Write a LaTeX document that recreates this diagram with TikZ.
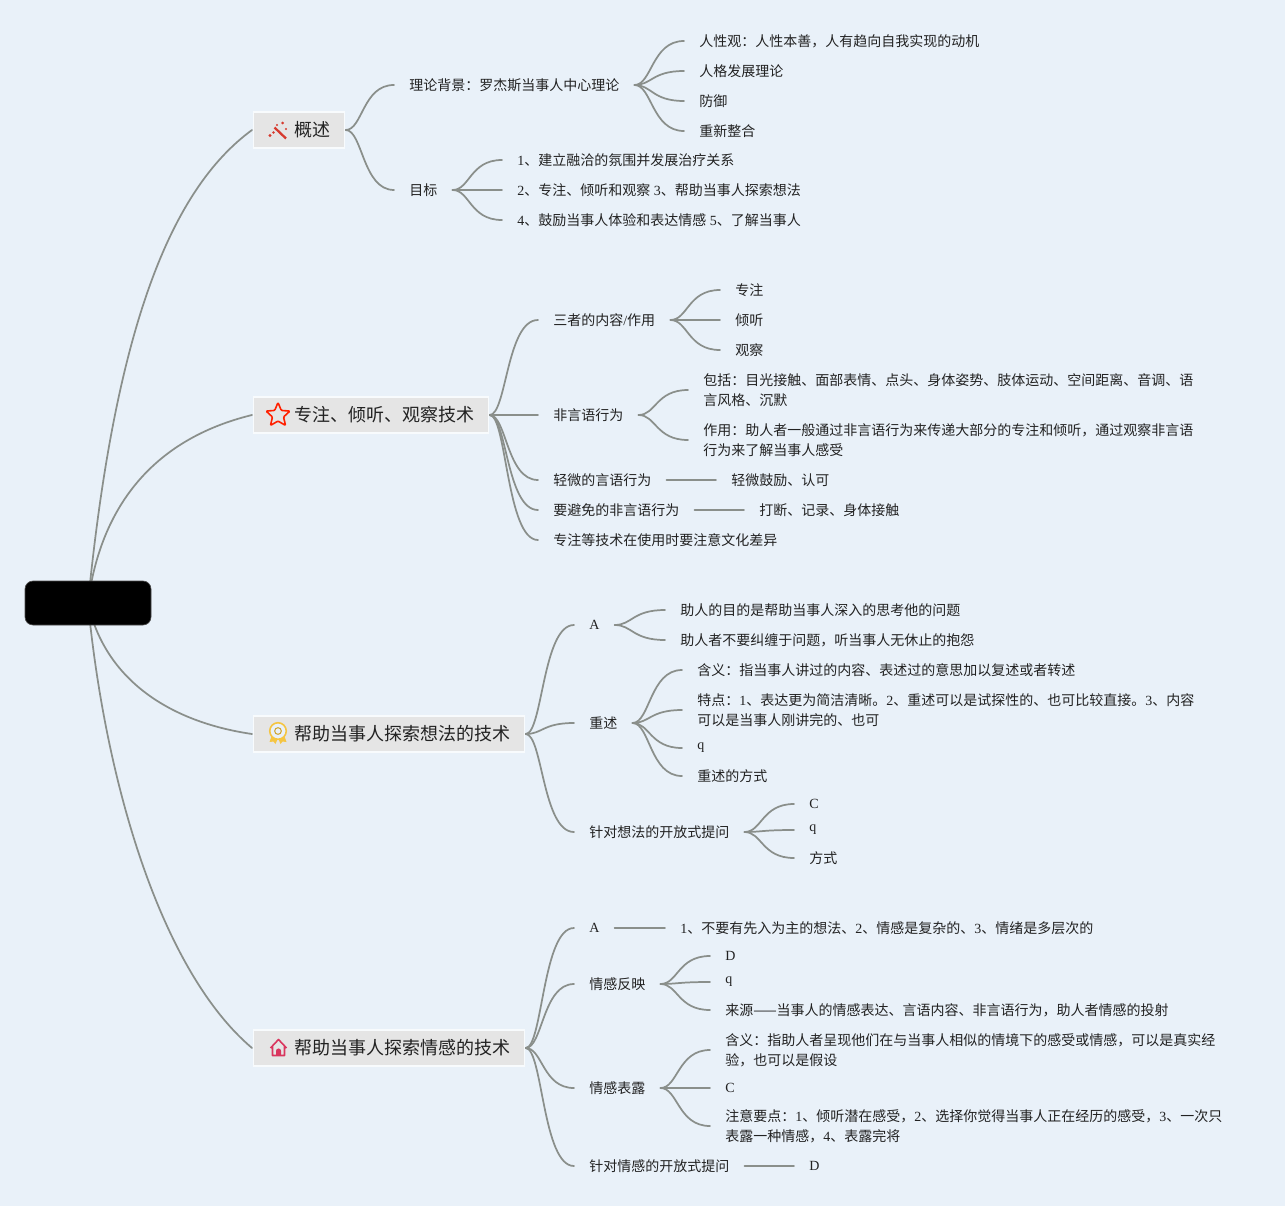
\documentclass[tikz,border=0pt]{standalone}
\usepackage{fontspec}
\setmainfont{Noto Sans CJK SC}
\newfontfamily\ltnfont{Liberation Serif}
\newcommand\Ls[1]{{\ltnfont #1}}
\usetikzlibrary{calc}
\pgfdeclarelayer{back}
\pgfdeclarelayer{links}
\pgfsetlayers{back,links,main}
\definecolor{bgc}{HTML}{E9F1F9}
\definecolor{linkc}{HTML}{8A8F8B}
\definecolor{boxc}{HTML}{E5E5E5}
\definecolor{txtc}{HTML}{222222}
\tikzset{
  x=0.75pt,y=-0.75pt,
  link/.style={draw=linkc,line width=1.3pt,line cap=round},
  txt/.style={anchor=west,inner xsep=11.25pt,inner ysep=0pt,text=txtc,font=\fontsize{10.5pt}{15pt}\selectfont,align=left},
  topic/.style={anchor=west,draw=white!70!bgc,line width=1.2pt,fill=boxc,inner xsep=10.5pt,inner ysep=0pt,minimum height=27pt,outer sep=1pt,text=txtc,font=\fontsize{13.5pt}{16pt}\selectfont},
  rootbox/.style={fill=black,draw=black!70,line width=.5pt,rounded corners=6pt,minimum width=94.5pt,minimum height=33pt,inner sep=0pt},
}
\newcommand\lnk[2]{\draw[link] let \p1=(#1.east),\p2=(#2.west) in (\p1) .. controls ({\x1+0.35*(\x2-\x1)},\y1) and ({\x1+0.35*(\x2-\x1)},\y2) .. (\p2);}
\begin{document}
\begin{tikzpicture}
\useasboundingbox (0,0) rectangle (1285,1206);
\begin{pgfonlayer}{back}
\fill[bgc] (0,0) rectangle (1285,1206);
\end{pgfonlayer}
% root
\node[rootbox] (root) at (88,603) {};
% topics
\node[topic] (t1) at (252,130) {\hspace*{20.25pt}概述};
\node[topic] (t2) at (252,415) {\hspace*{20.25pt}专注、倾听、观察技术};
\node[topic] (t3) at (252,734) {\hspace*{20.25pt}帮助当事人探索想法的技术};
\node[topic] (t4) at (252,1048) {\hspace*{20.25pt}帮助当事人探索情感的技术};
% branch 1
\node[txt] (a1) at (394,85) {理论背景：罗杰斯当事人中心理论};
\node[txt] (a11) at (684,41) {人性观：人性本善，人有趋向自我实现的动机};
\node[txt] (a12) at (684,71) {人格发展理论};
\node[txt] (a13) at (684,101) {防御};
\node[txt] (a14) at (684,131) {重新整合};
\node[txt] (a2) at (394,190) {目标};
\node[txt] (a21) at (502,160) {\Ls{1}、建立融洽的氛围并发展治疗关系};
\node[txt] (a22) at (502,190) {\Ls{2}、专注、倾听和观察\Ls{ 3}、帮助当事人探索想法};
\node[txt] (a23) at (502,220) {\Ls{4}、鼓励当事人体验和表达情感\Ls{ 5}、了解当事人};
% branch 2
\node[txt] (b1) at (538,320) {三者的内容\Ls{/}作用};
\node[txt] (b11) at (720,290) {专注};
\node[txt] (b12) at (720,320) {倾听};
\node[txt] (b13) at (720,350) {观察};
\node[txt] (b2) at (538,415) {非言语行为};
\node[txt] (b21) at (688,390) {包括：目光接触、面部表情、点头、身体姿势、肢体运动、空间距离、音调、语\\言风格、沉默};
\node[txt] (b22) at (688,440) {作用：助人者一般通过非言语行为来传递大部分的专注和倾听，通过观察非言语\\行为来了解当事人感受};
\node[txt] (b3) at (538,480) {轻微的言语行为};
\node[txt] (b31) at (716,480) {轻微鼓励、认可};
\node[txt] (b4) at (538,510) {要避免的非言语行为};
\node[txt] (b41) at (744,510) {打断、记录、身体接触};
\node[txt] (b5) at (538,540) {专注等技术在使用时要注意文化差异};
% branch 3
\node[txt] (c1) at (574,625) {\Ls{A}};
\node[txt] (c11) at (665,610) {助人的目的是帮助当事人深入的思考他的问题};
\node[txt] (c12) at (665,640) {助人者不要纠缠于问题，听当事人无休止的抱怨};
\node[txt] (c2) at (574,723) {重述};
\node[txt] (c21) at (682,670) {含义：指当事人讲过的内容、表述过的意思加以复述或者转述};
\node[txt] (c22) at (682,710) {特点：\Ls{1}、表达更为简洁清晰。\Ls{2}、重述可以是试探性的、也可比较直接。\Ls{3}、内容\\可以是当事人刚讲完的、也可};
\node[txt] (c23) at (682,748) {\Ls{q}};
\node[txt] (c24) at (682,776) {重述的方式};
\node[txt] (c3) at (574,832) {针对想法的开放式提问};
\node[txt] (c31) at (794,804) {\Ls{C}};
\node[txt] (c32) at (794,830) {\Ls{q}};
\node[txt] (c33) at (794,858) {方式};
% branch 4
\node[txt] (d1) at (574,928) {\Ls{A}};
\node[txt] (d11) at (665,928) {\Ls{1}、不要有先入为主的想法、\Ls{2}、情感是复杂的、\Ls{3}、情绪是多层次的};
\node[txt] (d2) at (574,984) {情感反映};
\node[txt] (d21) at (710,956) {\Ls{D}};
\node[txt] (d22) at (710,982) {\Ls{q}};
\node[txt] (d23) at (710,1010) {来源——当事人的情感表达、言语内容、非言语行为，助人者情感的投射};
\node[txt] (d3) at (574,1088) {情感表露};
\node[txt] (d31) at (710,1050) {含义：指助人者呈现他们在与当事人相似的情境下的感受或情感，可以是真实经\\验，也可以是假设};
\node[txt] (d32) at (710,1088) {\Ls{C}};
\node[txt] (d33) at (710,1126) {注意要点：\Ls{1}、倾听潜在感受，\Ls{2}、选择你觉得当事人正在经历的感受，\Ls{3}、一次只\\表露一种情感，\Ls{4}、表露完将};
\node[txt] (d4) at (574,1166) {针对情感的开放式提问};
\node[txt] (d41) at (794,1166) {\Ls{D}};
% connectors
\begin{pgfonlayer}{links}
\draw[link] (root.center) .. controls (115,330) and (170,190) .. (t1.west);
\draw[link] (root.center) .. controls (100,510) and (150,440) .. (t2.west);
\draw[link] (root.center) .. controls (105,680) and (170,722) .. (t3.west);
\draw[link] (root.center) .. controls (105,780) and (160,970) .. (t4.west);
\lnk{t1}{a1}\lnk{t1}{a2}
\lnk{a1}{a11}\lnk{a1}{a12}\lnk{a1}{a13}\lnk{a1}{a14}
\lnk{a2}{a21}\lnk{a2}{a22}\lnk{a2}{a23}
\lnk{t2}{b1}\lnk{t2}{b2}\lnk{t2}{b3}\lnk{t2}{b4}\lnk{t2}{b5}
\lnk{b1}{b11}\lnk{b1}{b12}\lnk{b1}{b13}
\lnk{b2}{b21}\lnk{b2}{b22}
\lnk{b3}{b31}\lnk{b4}{b41}
\lnk{t3}{c1}\lnk{t3}{c2}\lnk{t3}{c3}
\lnk{c1}{c11}\lnk{c1}{c12}
\lnk{c2}{c21}\lnk{c2}{c22}\lnk{c2}{c23}\lnk{c2}{c24}
\lnk{c3}{c31}\lnk{c3}{c32}\lnk{c3}{c33}
\lnk{t4}{d1}\lnk{t4}{d2}\lnk{t4}{d3}\lnk{t4}{d4}
\lnk{d1}{d11}
\lnk{d2}{d21}\lnk{d2}{d22}\lnk{d2}{d23}
\lnk{d3}{d31}\lnk{d3}{d32}\lnk{d3}{d33}
\lnk{d4}{d41}
\end{pgfonlayer}
% icons
\definecolor{wandc}{HTML}{D63A2E}
\draw[wandc,line width=1.7pt] (274.5,127.5) -- (286,138.5);
\fill[wandc] (270,135.5) circle (1.3pt) (273.5,132.5) circle (1.1pt) (282.7,123) circle (1.1pt) (286,129) circle (0.9pt) (277,125) circle (.8pt);
\draw[draw=red!75!orange,line width=1.2pt,line join=round,rounded corners=.8pt]
  (278,402.5) -- (281.3,410.5) -- (290,411) -- (283.5,417) -- (285.6,425.5) -- (278,421) -- (270.4,425.5) -- (272.5,417) -- (266,411) -- (274.7,410.5) -- cycle;
\definecolor{medalc}{HTML}{F5C542}
\fill[medalc] (272,735) -- (269.5,742) -- (273.5,741.5) -- (275.5,744) -- (278,738) -- (280.5,744) -- (282.5,741.5) -- (286.5,742) -- (284,735) -- cycle;
\draw[medalc,fill=bgc,line width=1.2pt] (278,731) circle (6.2pt);
\draw[medalc!85!black,line width=.8pt] (278,731) circle (2.5pt);
\definecolor{housec}{HTML}{D9365E}
\draw[housec,line width=1.2pt,line join=round] (270.5,1048) -- (278.5,1039.5) -- (286.5,1048) (272.5,1046.5) -- (272.5,1055.5) -- (284.5,1055.5) -- (284.5,1046.5);
\fill[housec] (276,1055.5) -- (276,1051) arc[start angle=180,end angle=0,radius=1.9pt] -- (281,1055.5) -- cycle;
\end{tikzpicture}
\end{document}
